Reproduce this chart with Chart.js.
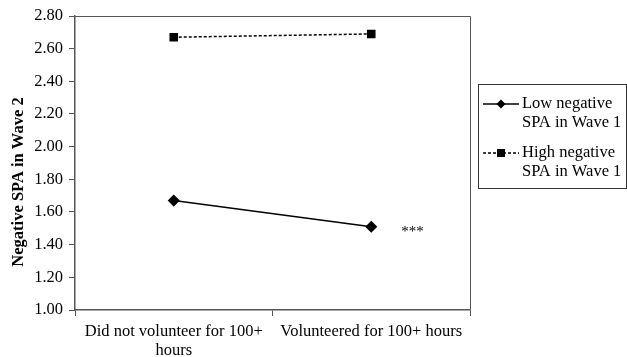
<!DOCTYPE html>
<html>
<head>
<meta charset="utf-8">
<script src="https://cdn.jsdelivr.net/npm/chart.js@4"></script>
<style>
  html, body { margin: 0; padding: 0; background: #fff; }
  #wrap { width: 627px; height: 357px; }
</style>
</head>
<body>
<div id="wrap"><canvas id="spaChart"></canvas></div>
<script>
const categories = [['Did not volunteer for 100+', 'hours'], 'Volunteered for 100+ hours'];
const lowSPA = [1.67, 1.51];
const highSPA = [2.67, 2.69];
const seriesNames = [['Low negative', 'SPA in Wave 1'], ['High negative', 'SPA in Wave 1']];
const yTitle = 'Negative SPA in Wave 2';
const sigMark = '***';

const serif = '"Liberation Serif", "Times New Roman", serif';

// frame around the plot, y title and the "***" note
const framePlugin = {
  id: 'frame',
  afterDatasetsDraw(chart) {
    const { ctx, chartArea: a } = chart;
    ctx.save();
    ctx.strokeStyle = '#555';
    ctx.lineWidth = 1;
    ctx.beginPath();
    ctx.moveTo(a.left, a.top + 0.5);
    ctx.lineTo(a.right + 0.5, a.top + 0.5);
    ctx.lineTo(a.right + 0.5, a.bottom);
    ctx.stroke();

    // y title sits a bit lower than the plot centre in the original
    ctx.fillStyle = '#000';
    ctx.translate(19, 182);
    ctx.rotate(-Math.PI / 2);
    ctx.font = 'bold 16.5px ' + serif;
    ctx.textAlign = 'center';
    ctx.textBaseline = 'middle';
    ctx.fillText(yTitle, 0, 0);
    ctx.restore();

    ctx.save();
    const pt = chart.getDatasetMeta(0).data[1];
    ctx.fillStyle = '#000';
    ctx.font = '15px ' + serif;
    ctx.textBaseline = 'middle';
    ctx.fillText(sigMark, pt.x + 30, pt.y + 5);
    ctx.restore();
  }
};

// boxed legend on the right, like the original
const legendBox = {
  id: 'legendBox',
  afterDraw(chart) {
    const { ctx } = chart;
    const left = 478, top = 84, w = 148, h = 104;
    ctx.save();
    ctx.strokeStyle = '#333';
    ctx.lineWidth = 1;
    ctx.strokeRect(left + 0.5, top + 0.5, w, h);
    ctx.font = '16.5px ' + serif;
    ctx.fillStyle = '#000';
    ctx.textBaseline = 'middle';
    chart.data.datasets.forEach((ds, i) => {
      const y = top + 20 + i * 49;
      ctx.strokeStyle = '#000';
      ctx.lineWidth = ds.borderWidth;
      ctx.setLineDash(ds.borderDash || []);
      ctx.beginPath();
      ctx.moveTo(left + 5, y);
      ctx.lineTo(left + 41, y);
      ctx.stroke();
      ctx.setLineDash([]);
      ctx.fillStyle = '#000';
      if (ds.pointStyle === 'rect') {
        ctx.fillRect(left + 19, y - 4, 8, 8);
      } else {
        ctx.beginPath();
        ctx.moveTo(left + 23, y - 4.5);
        ctx.lineTo(left + 27.5, y);
        ctx.lineTo(left + 23, y + 4.5);
        ctx.lineTo(left + 18.5, y);
        ctx.closePath();
        ctx.fill();
      }
      seriesNames[i].forEach((line, j) => {
        ctx.fillText(line, left + 44, y + j * 18.5);
      });
    });
    ctx.restore();
  }
};

new Chart(document.getElementById('spaChart'), {
  type: 'line',
  data: {
    labels: categories,
    datasets: [
      {
        label: 'Low negative SPA in Wave 1',
        data: lowSPA,
        borderColor: '#000',
        backgroundColor: '#000',
        borderWidth: 1.5,
        pointStyle: 'rectRot',
        pointRadius: 5,
        pointHoverRadius: 5
      },
      {
        label: 'High negative SPA in Wave 1',
        data: highSPA,
        borderColor: '#000',
        backgroundColor: '#000',
        borderWidth: 1.5,
        borderDash: [3, 2],
        pointStyle: 'rect',
        pointRadius: 5,
        pointHoverRadius: 5
      }
    ]
  },
  options: {
    responsive: true,
    maintainAspectRatio: false,
    animation: false,
    layout: { padding: { top: 16, right: 157, left: 0, bottom: 0 } },
    plugins: {
      legend: { display: false },
      tooltip: { enabled: false }
    },
    scales: {
      x: {
        offset: true,
        border: { color: '#555', width: 1.5 },
        grid: { drawOnChartArea: false, drawTicks: true, tickLength: 6, color: '#555', offset: true },
        ticks: {
          color: '#000',
          font: { family: serif, size: 16.5, lineHeight: 1.1 },
          maxRotation: 0,
          autoSkip: false,
          padding: 7
        },
        afterFit(scale) { scale.height = 47; }
      },
      y: {
        min: 1,
        max: 2.8,
        border: { color: '#555', width: 1.5 },
        grid: { drawOnChartArea: false, drawTicks: true, tickLength: 6, color: '#555' },
        ticks: {
          stepSize: 0.2,
          color: '#000',
          font: { family: serif, size: 16.5 },
          padding: 6,
          callback: v => v.toFixed(2)
        },
        afterFit(scale) { scale.width = 75; }
      }
    }
  },
  plugins: [framePlugin, legendBox]
});
</script>
</body>
</html>
